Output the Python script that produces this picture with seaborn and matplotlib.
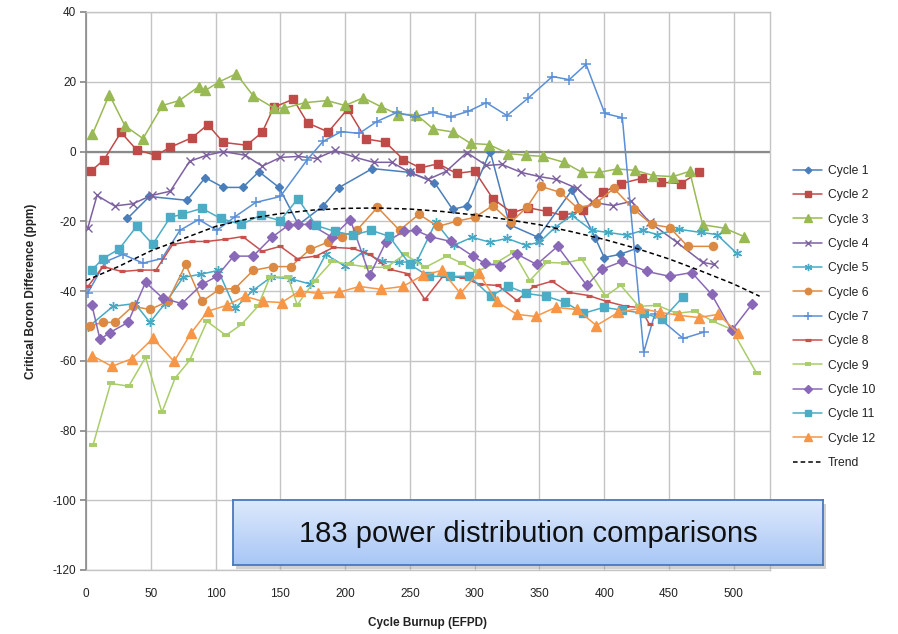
import numpy as np
import pandas as pd
import matplotlib
matplotlib.use("Agg")
import matplotlib.pyplot as plt
import seaborn as sns
from matplotlib.colors import LinearSegmentedColormap

sns.set_theme(style="white")
plt.rcParams["font.family"] = ["Liberation Sans Narrow", "Liberation Sans", "DejaVu Sans"]
plt.rcParams["axes.unicode_minus"] = False

# ---------------- data ----------------
c1_x = [32, 49, 78, 92, 106, 121, 133.5, 149, 164, 183, 195, 221, 250, 269, 283, 294, 312, 327, 349, 375, 393, 400, 412, 425]
c1_y = [-19.2, -12.9, -14, -7.5, -10.3, -10.3, -5.8, -10.3, -21, -15.6, -10.4, -4.9, -6, -8.9, -16.6, -15.6, 0, -21, -24.6, -11.1, -24.7, -30.4, -29.5, -27.8]

c2_x = [4, 14, 27, 39, 54, 65, 82, 94, 106, 124, 136, 145, 160, 171, 187, 202, 216, 231, 245, 258, 272, 286, 300, 314, 329, 341, 356, 368, 384, 399, 413, 429, 444, 459, 473]
c2_y = [-5.6, -2.3, 5.5, 0.5, -1.1, 1.2, 4, 7.7, 2.6, 1.8, 5.5, 12.7, 15, 8.2, 5.6, 12.2, 3.6, 2.7, -2.3, -4.7, -3.5, -6.3, -5.6, -13.5, -17.6, -16.1, -17.2, -18.3, -16.9, -11.7, -9.2, -7.7, -8.8, -9.2, -6]

c3_x = [5, 18, 30, 44, 59, 72, 87, 92, 103, 116, 129, 145, 153, 169, 186, 200, 214, 228, 241, 255, 268, 283, 297, 311, 326, 340, 353, 369, 383, 396, 410, 424, 438, 453, 466, 476, 493, 508]
c3_y = [5, 16.3, 7.4, 3.7, 13.2, 14.6, 18.6, 17.5, 20, 22.3, 16, 12.5, 12.4, 14, 14.6, 13.2, 15.4, 12.8, 10.6, 10.6, 6.5, 5.6, 2.3, 2, -0.6, -1.1, -1.4, -3.1, -6, -6, -5, -5.4, -6.9, -7.2, -5.7, -21, -22, -24.4]

c4_x = [1.5, 8.5, 22, 36, 50.6, 65, 80, 93, 106, 123, 136, 150, 164, 178, 192, 208, 222, 236, 250, 264, 278, 294, 309, 321, 336, 350, 363, 379, 391, 407, 421, 435, 456, 476, 485]
c4_y = [-21.8, -12.6, -15.6, -15, -12.6, -11.4, -2.8, -1.1, 0, -1.1, -4.2, -1.7, -1.4, -2, 0.3, -1.7, -3.1, -3.1, -6, -8, -5.7, -0.3, -4, -3.7, -6, -7.2, -8, -10.6, -14.6, -15.5, -14.3, -20.3, -26, -31.8, -32.4]

c5_x = [1.5, 20.8, 37.8, 49.4, 61, 75, 88.7, 102, 115, 129, 143, 158, 173, 185, 200, 214, 228.4, 241.5, 255.4, 270, 284, 298, 311.7, 325, 339.5, 350, 362, 375, 390.4, 403, 417.4, 429.8, 440.6, 457.6, 474.5, 487, 502.3]
c5_y = [-50.4, -44.4, -43.6, -49, -43.6, -36.1, -35.2, -34.1, -45, -39.8, -36, -36.5, -38, -29.5, -32.9, -28.7, -31.5, -31.8, -31.5, -20.3, -26.9, -24.6, -26, -24.9, -26.9, -26, -21.8, -18.3, -22.6, -23.2, -24, -22.6, -23.8, -22.3, -23.2, -23.8, -29.2]

c6_x = [3, 13, 22.4, 36, 49.4, 63, 77, 89.5, 103, 115, 129, 144, 158, 172.8, 186.7, 197.5, 209, 225, 242, 257, 271.6, 286, 300, 314, 328, 340.3, 351, 366, 379.6, 393.5, 407.4, 423, 436.7, 450.6, 464.5, 483.8]
c6_y = [-50, -49, -49, -44.4, -45.3, -43, -32.4, -43, -39.5, -39.3, -34.1, -33, -33, -28.1, -26, -24.4, -22.6, -16, -22.6, -18, -21.5, -20, -18.9, -15.5, -20.3, -16, -10, -11.7, -16.3, -14.9, -10.6, -16.6, -20.9, -21.8, -27.2, -27.2]

c7_x = [1.5, 15, 28.5, 44, 58.6, 72.5, 87, 101, 115, 131, 150, 170.5, 183, 197, 211, 224.5, 240, 254, 268, 281.6, 295, 309, 325, 341, 360, 373, 386, 400.5, 414, 430.5, 439, 461, 477]
c7_y = [-40.5, -31.6, -29.5, -32, -30.7, -22.6, -19.5, -22.6, -18.7, -14.6, -12.9, -2.5, 2.9, 5.7, 5.2, 8.6, 11.2, 10, 11.2, 10, 11.5, 14, 10.3, 15.2, 21.5, 20.6, 25, 10.9, 9.7, -57.6, -46.7, -53.6, -51.8]

c8_x = [1.5, 13, 27.6, 41.6, 54, 67, 82, 93, 107, 121, 136, 150, 163, 177.5, 191, 206, 219, 234.6, 248, 261.6, 275.5, 290, 304, 318, 332.6, 345.7, 359.6, 372.7, 388, 402, 416.7, 427.5, 435]
c8_y = [-38.7, -33, -34.4, -34, -34, -26.6, -25.8, -25.8, -25.2, -24.4, -28.6, -27.2, -30.7, -30, -27.5, -27.8, -29.5, -33.8, -35, -42.4, -35.8, -36.1, -38.1, -38.4, -42.7, -38.7, -37.2, -40.4, -41.3, -43, -44.4, -44.7, -49.6]

c9_x = [5.4, 19, 33, 46, 58.6, 68.7, 80, 93.4, 108, 120, 132.7, 142, 156, 163, 176.7, 190, 204, 218, 232, 246, 262, 278.5, 290, 302, 317, 330, 342.6, 355.7, 369.6, 382.7, 401, 412.8, 426.7, 441, 456, 470, 484, 498.5, 517.7]
c9_y = [-84.2, -66.5, -67.3, -59, -74.8, -65, -59.9, -48.7, -52.7, -49.6, -44.4, -36, -36, -44, -37, -31.5, -32.4, -33.2, -33.2, -29.5, -33.2, -30, -32, -34.4, -31.8, -28.9, -37, -31.8, -32, -30.9, -41.5, -38.4, -44.4, -44.1, -46.4, -45.8, -48.7, -51, -63.6]

c10_x = [4.6, 10.8, 18.5, 32.4, 46, 59.4, 74, 89.5, 101, 114, 129, 143.5, 156, 163.6, 173, 190, 204, 219, 231.5, 245.4, 254.6, 265.4, 281.6, 298.6, 308, 319.4, 333, 348, 364, 386.6, 398, 414, 433, 450.6, 467.6, 483, 498.5, 514]
c10_y = [-44.1, -53.9, -51.9, -49, -37.5, -42.1, -43.6, -38.1, -35.8, -30, -30, -24.6, -21.2, -20.9, -20.9, -24.6, -19.5, -35.5, -26, -22.9, -22.6, -24.4, -25.8, -30, -32.1, -32.7, -29.5, -32.4, -27.2, -38.4, -33.8, -31.5, -34.4, -35.8, -34.7, -41, -51.3, -43.8]

c11_x = [4.6, 13, 25.5, 39, 51.5, 65, 74, 89.5, 104, 119.6, 135, 150, 163.6, 177.5, 192, 206, 220, 234, 250, 264.6, 281, 296, 312.5, 325.6, 340, 355, 369.6, 384, 399.7, 414, 430.6, 445, 460.6]
c11_y = [-34, -30.7, -28, -21.5, -26.6, -18.9, -18, -16.3, -19.2, -20.9, -18.3, -19.8, -13.5, -21.2, -22.9, -24, -22.6, -24.3, -32.4, -35.8, -35.8, -35.8, -41.5, -38.6, -40.7, -41.5, -43.2, -46.4, -44.7, -45.5, -46.4, -48.1, -41.8]

c12_x = [4.6, 20, 35.5, 51.7, 68, 81, 94, 108.8, 122.7, 136.6, 151, 165, 179, 195, 211, 227.6, 244.6, 260, 274.7, 289, 303, 317, 332.6, 347, 362.6, 379, 394, 411, 427.5, 443, 458, 473, 488, 503]
c12_y = [-58.5, -61.6, -59.4, -53.6, -60.2, -52.1, -45.8, -44.1, -41.5, -43, -43.3, -40, -40.7, -40.4, -38.7, -39.5, -38.7, -35.5, -34.1, -40.7, -34.7, -43, -46.7, -47.3, -44.7, -45.3, -49.9, -46.1, -45, -46.1, -47, -47.6, -46.7, -51.9]

trend_x = [0, 25, 50, 75, 100, 125, 150, 175, 200, 225, 250, 275, 300, 325, 350, 375, 400, 425, 450, 475, 500, 520]
trend_y = [-37, -33, -28.5, -25, -21.5, -19.3, -17.8, -16.8, -16.3, -16.2, -16.5, -17.2, -18.2, -19.5, -21, -23, -25.2, -27.8, -30.8, -34.3, -38, -41.5]

x_ticks = [0, 50, 100, 150, 200, 250, 300, 350, 400, 450, 500]
y_ticks = [-120, -100, -80, -60, -40, -20, 0, 20, 40]
x_label = "Cycle Burnup (EFPD)"
y_label = "Critical Boron Difference (ppm)"
box_text = "183 power distribution comparisons"

# ---------------- styles ----------------
styles = [
    ("Cycle 1", c1_x, c1_y, "#4a7ebb", "D", 4.2, 1.0),
    ("Cycle 2", c2_x, c2_y, "#be4b48", "s", 5.6, 1.0),
    ("Cycle 3", c3_x, c3_y, "#98b954", "^", 6.5, 1.0),
    ("Cycle 4", c4_x, c4_y, "#7d60a0", "x", 5.5, 1.0),
    ("Cycle 5", c5_x, c5_y, "#46aac5", (6, 2, 0), 6.5, 1.0),
    ("Cycle 6", c6_x, c6_y, "#dc8a43", "o", 5.8, 1.0),
    ("Cycle 7", c7_x, c7_y, "#5a8fd6", "+", 7.5, 1.1),
    ("Cycle 8", c8_x, c8_y, "#c9504d", "_", 5.0, 2.3),
    ("Cycle 9", c9_x, c9_y, "#a9cd6a", "_", 6.0, 2.8),
    ("Cycle 10", c10_x, c10_y, "#8a68b8", "D", 5.0, 1.0),
    ("Cycle 11", c11_x, c11_y, "#4bacc6", "s", 6.0, 1.0),
    ("Cycle 12", c12_x, c12_y, "#f79646", "^", 6.5, 1.0),
]

fig = plt.figure(figsize=(8.98, 6.34), dpi=100)
fig.patch.set_facecolor("white")
ax = fig.add_axes([86 / 898, 1 - 570 / 634, (770 - 86) / 898, (570 - 12) / 634])
ax.set_facecolor("none")

for name, xs, ys, col, mk, ms, mew in styles:
    sns.lineplot(x=xs, y=ys, ax=ax, color=col, marker=mk, markersize=ms,
                 markeredgewidth=mew, markeredgecolor=col, markerfacecolor=col,
                 linewidth=1.1, sort=False, estimator=None, label=name, zorder=3)

sns.lineplot(x=trend_x, y=trend_y, ax=ax, color="black", linewidth=1.1,
             linestyle=(0, (3, 2)), sort=False, estimator=None, label="Trend", zorder=4)

ax.set_xlim(0, 528)
ax.set_ylim(-120, 40)
ax.set_xticks(x_ticks)
ax.set_yticks(y_ticks)
ax.grid(True, color="#c4c4c4", linewidth=1.0)
ax.set_axisbelow(True)
ax.axhline(0, color="#8a8a8a", linewidth=1.6, zorder=2)
for s in ["top", "right", "bottom"]:
    ax.spines[s].set_color("#c4c4c4")
    ax.spines[s].set_linewidth(1.0)
ax.spines["left"].set_color("#8a8a8a")
ax.spines["left"].set_linewidth(1.2)
ax.tick_params(axis="y", labelsize=8.5, length=4, color="#8a8a8a", left=True, pad=3, labelcolor="#222222")
ax.tick_params(axis="x", labelsize=8.5, length=0, pad=13, labelcolor="#222222")
ax.set_xlabel(x_label, fontsize=8.5, fontweight="bold", color="#222222")
ax.set_ylabel(y_label, fontsize=8.5, fontweight="bold", color="#222222")
ax.xaxis.set_label_coords(0.5, -0.085)
ax.yaxis.set_label_coords(-0.071, 0.5)

handles, labels = ax.get_legend_handles_labels()
leg = ax.legend(handles, labels, loc="upper left", bbox_to_anchor=(793 / 898, 1 - 165 / 634),
                bbox_transform=fig.transFigure, frameon=False, fontsize=8.7,
                handlelength=2.4, handletextpad=0.5, labelspacing=1.02,
                borderaxespad=0, borderpad=0, markerscale=0.8)
for t in leg.get_texts():
    t.set_color("#222222")

# text box with gradient and shadow
bx0, by0, bw, bh = 233 / 898, 1 - 565 / 634, 590 / 898, 65 / 634
sh = fig.add_axes([bx0 + 3 / 898, by0 - 4 / 634, bw, bh], zorder=4)
sh.set_facecolor("#9a9a9a")
sh.patch.set_alpha(0.45)
sh.set_xticks([]); sh.set_yticks([])
for s in sh.spines.values():
    s.set_visible(False)
bax = fig.add_axes([bx0, by0, bw, bh], zorder=5)
grad = np.linspace(0, 1, 200).reshape(-1, 1)
cmap = LinearSegmentedColormap.from_list("g", ["#dde9fc", "#a8c6f5"])
bax.imshow(grad, aspect="auto", cmap=cmap, extent=[0, 1, 0, 1], origin="upper")
bax.set_xlim(0, 1); bax.set_ylim(0, 1)
bax.set_xticks([]); bax.set_yticks([])
for s in bax.spines.values():
    s.set_color("#4a78bd")
    s.set_linewidth(1.3)
bax.text(0.5, 0.47, box_text, ha="center", va="center", fontsize=21, color="#111111")

fig.savefig("out.png", dpi=100)
